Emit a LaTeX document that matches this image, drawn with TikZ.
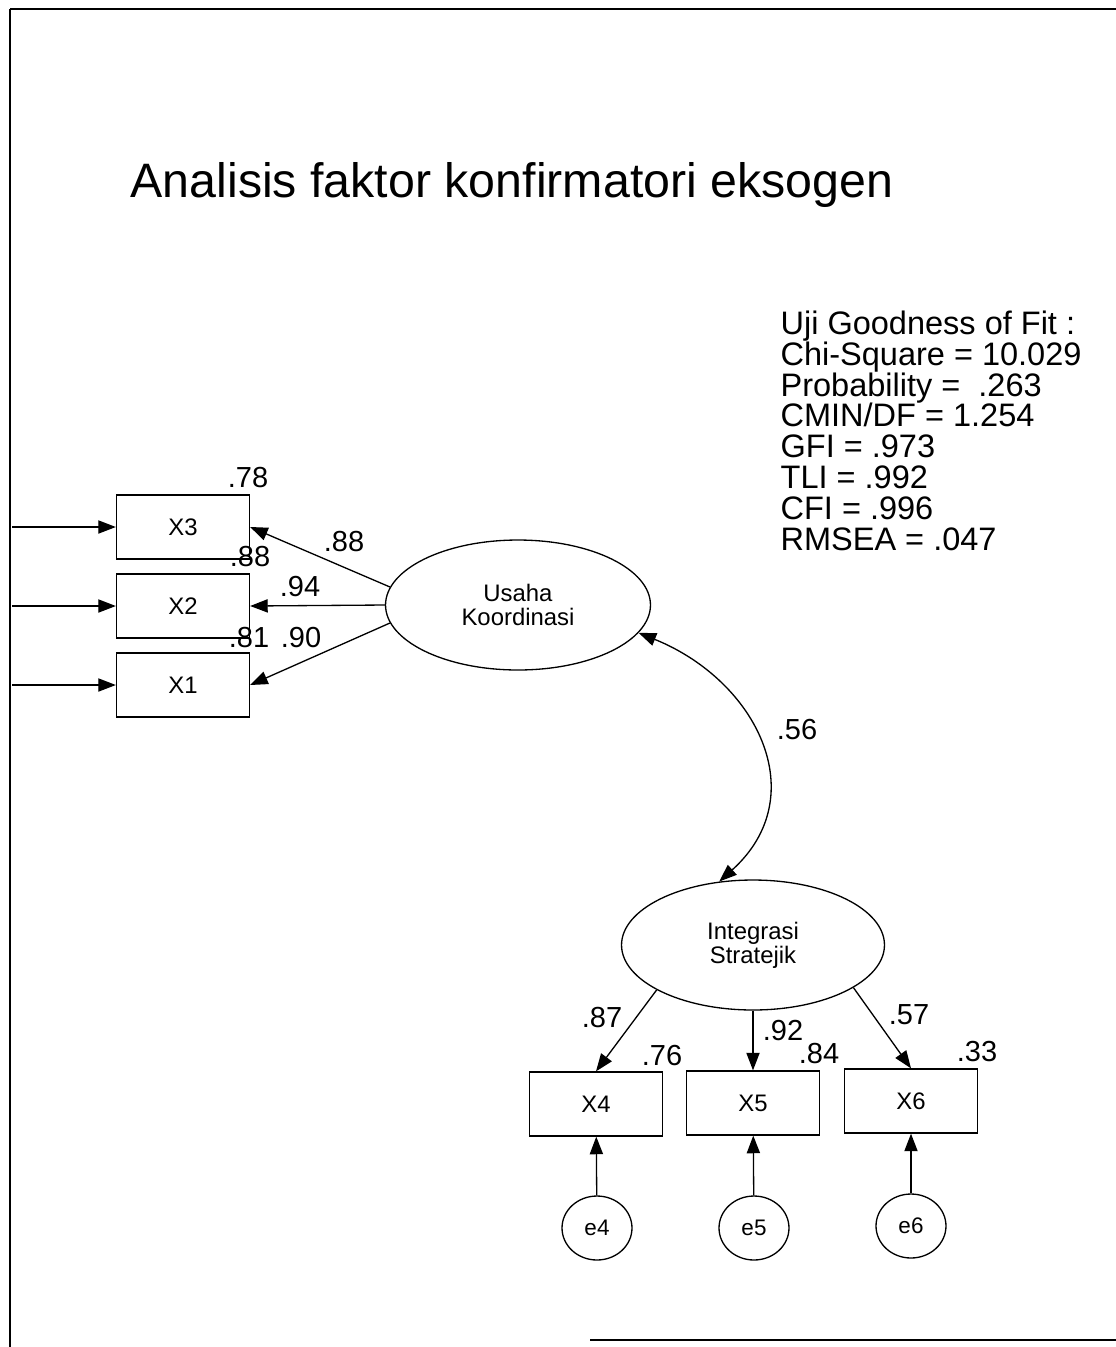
\documentclass[tikz,border=0pt]{standalone}
\usepackage{fontspec}
\setmainfont{Liberation Sans}
\usetikzlibrary{arrows.meta,shapes.geometric}

\begin{document}
\begin{tikzpicture}[x=0.02cm,y=0.02cm,line width=0.75pt,
	>={Triangle[length=10pt,width=7.5pt]},
	obsbox/.style={draw,rectangle,minimum width=2.66cm,minimum height=1.28cm,font=\fontsize{13.6}{14}\selectfont},
	latent/.style={draw,ellipse,minimum width=5.3cm,minimum height=2.6cm,align=center,inner sep=0pt,font=\fontsize{13.6}{13.8}\selectfont},
	errnode/.style={draw,ellipse,minimum width=1.4cm,minimum height=1.28cm,inner sep=0pt,font=\fontsize{12.8}{13}\selectfont},
	coef/.style={inner sep=0pt,font=\fontsize{16.5}{17}\selectfont}]
	\useasboundingbox (0,0) rectangle (1116,-1347);
	% bingkai
	\draw[line width=1.2pt] (1116,-9) -- (10,-9);
	\draw (10,-9) -- (10,-1347);
	\draw[line width=1.2pt] (590,-1340) -- (1116,-1340);
	% judul dan uji fit
	\node[anchor=base west,inner sep=0pt,font=\fontsize{27.5}{30}\selectfont] (judul) at (130,-197) {Analisis faktor konfirmatori eksogen};
	\node[anchor=north west,inner sep=0pt,align=left,font=\fontsize{18.5}{17.6}\selectfont] (ujifit) at (780,-310)
		{Uji Goodness of Fit :\\Chi-Square = 10.029\\Probability = \ .263\\CMIN/DF = 1.254\\GFI = .973\\TLI = .992\\CFI = .996\\RMSEA = .047};
	% variabel laten
	\node[latent] (usaha) at (518,-605) {Usaha\\Koordinasi};
	\node[latent,minimum width=5.26cm] (integ) at (753,-945) {Integrasi\\Stratejik};
	% indikator
	\node[obsbox] (x3) at (183,-527) {X3};
	\node[obsbox] (x2) at (183,-606) {X2};
	\node[obsbox] (x1) at (183,-685) {X1};
	\node[obsbox] (x4) at (596,-1104) {X4};
	\node[obsbox] (x5) at (753,-1103) {X5};
	\node[obsbox] (x6) at (911,-1101) {X6};
	\node[errnode] (e4) at (597,-1228) {e4};
	\node[errnode] (e5) at (754,-1228) {e5};
	\node[errnode] (e6) at (911,-1226) {e6};
	% panah
	\coordinate (l3) at (12,-527);
	\coordinate (l2) at (12,-606);
	\coordinate (l1) at (12,-685);
	\draw[->] (l3) -- (x3.west);
	\draw[->] (l2) -- (x2.west);
	\draw[->] (l1) -- (x1.west);
	\draw[->] (usaha.172) -- (x3.east);
	\draw[->] (usaha.180) -- (x2.east);
	\draw[->] (usaha.188) -- (x1.east);
	\draw[->] (integ.205) -- (x4.north);
	\draw[->] (integ.south) -- (x5.north);
	\draw[->] (integ.337) -- (x6.north);
	\draw[->] (e4) -- (x4);
	\draw[->] (e5) -- (x5);
	\draw[->] (e6) -- (x6);
	\draw[<->] (usaha.-13) to[out=-22,in=42,looseness=1.25] (integ.118);
	% koefisien
	\node[coef] at (248,-478) {.78};
	\node[coef] at (250,-557) {.88};
	\node[coef] at (249,-638) {.81};
	\node[coef] at (344,-542) {.88};
	\node[coef] at (300,-587) {.94};
	\node[coef] at (301,-638) {.90};
	\node[coef] at (797,-730) {.56};
	\node[coef] at (602,-1018) {.87};
	\node[coef] at (662,-1056) {.76};
	\node[coef] at (783,-1031) {.92};
	\node[coef] at (819,-1054) {.84};
	\node[coef] at (909,-1015) {.57};
	\node[coef] at (977,-1052) {.33};
\end{tikzpicture}
\end{document}
